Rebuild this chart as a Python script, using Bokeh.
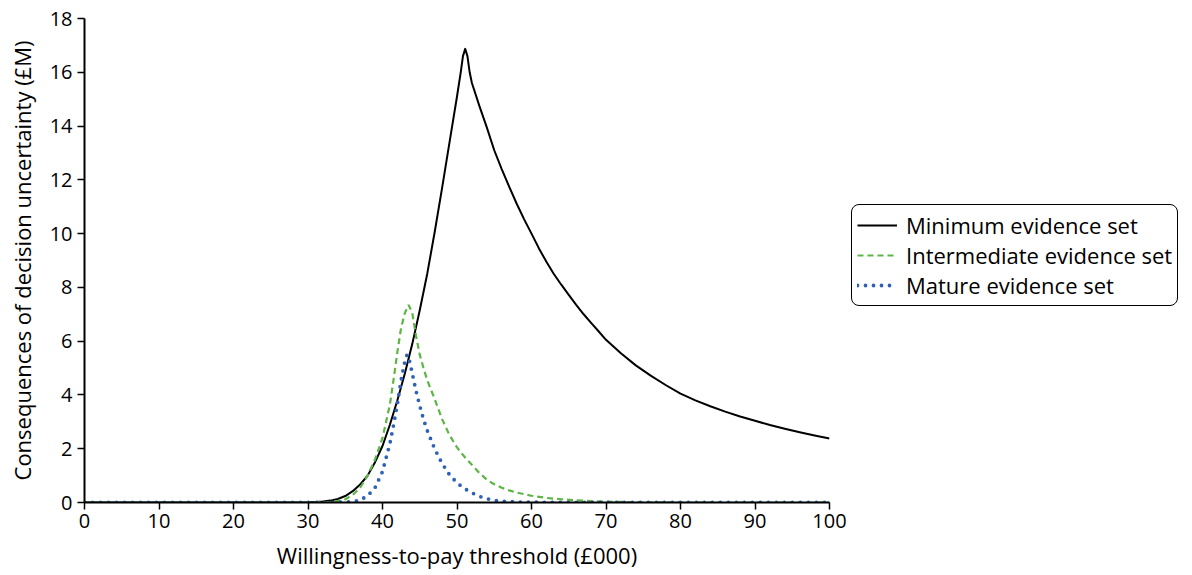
from bokeh.plotting import figure
from bokeh.models import Legend, LegendItem, Range1d, FixedTicker
from bokeh.embed import file_html
from bokeh.resources import INLINE

# Willingness-to-pay threshold (£000) and consequences of decision uncertainty (£M)
x_minimum = [0, 10, 20, 30, 31, 32, 33, 34, 35, 36, 37, 38, 39, 40, 41, 42, 43, 44, 45, 46, 47, 48,
             49, 50, 50.5, 50.8, 51.1, 51.4, 51.7, 52, 53, 54, 55, 56, 57, 58, 59, 60, 61, 62, 63,
             64, 65, 66, 67, 68, 69, 70, 72, 74, 76, 78, 80, 82, 84, 86, 88, 90, 92, 94, 96, 98, 100]
y_minimum = [0, 0, 0, 0.01, 0.02, 0.04, 0.07, 0.13, 0.24, 0.42, 0.67, 1.0, 1.5, 2.1, 2.9, 3.8, 4.8,
             5.9, 7.15, 8.5, 10.05, 11.7, 13.4, 15.1, 16.0, 16.6, 16.87, 16.6, 16.0, 15.6, 14.75,
             13.95, 13.1, 12.4, 11.75, 11.12, 10.54, 10.0, 9.45, 8.95, 8.5, 8.1, 7.72, 7.35, 7.0,
             6.68, 6.37, 6.05, 5.55, 5.1, 4.72, 4.37, 4.05, 3.8, 3.58, 3.38, 3.2, 3.04, 2.88, 2.74,
             2.61, 2.49, 2.38]

x_intermediate = [0, 10, 20, 30, 33, 34, 35, 36, 37, 38, 39, 40, 41, 41.5, 42, 42.5, 43, 43.5, 44,
                  44.5, 45, 45.5, 46, 47, 48, 49, 50, 51, 52, 53, 54, 55, 56, 57, 58, 60, 62, 64,
                  66, 68, 70, 75, 80, 90, 100]
y_intermediate = [0, 0, 0, 0, 0.02, 0.06, 0.12, 0.28, 0.55, 1.0, 1.6, 2.4, 3.65, 4.6, 5.6, 6.5,
                  7.05, 7.35, 7.05, 6.2, 5.5, 5.0, 4.55, 3.85, 3.1, 2.5, 2.05, 1.7, 1.4, 1.1, 0.85,
                  0.68, 0.55, 0.45, 0.37, 0.25, 0.17, 0.12, 0.08, 0.05, 0.03, 0.01, 0, 0, 0]

x_mature = [0, 10, 20, 30, 35, 36, 37, 38, 39, 40, 41, 41.5, 42, 42.5, 43, 43.3, 43.6, 44, 44.5,
            45, 45.5, 46, 47, 48, 49, 50, 51, 52, 53, 54, 55, 56, 58, 60, 70, 80, 90, 100]
y_mature = [0, 0, 0, 0, 0.01, 0.03, 0.09, 0.25, 0.55, 1.15, 2.2, 2.9, 3.67, 4.55, 5.25, 5.5, 5.3,
            4.8, 4.15, 3.6, 3.1, 2.68, 2.0, 1.45, 1.03, 0.73, 0.52, 0.36, 0.23, 0.14, 0.08, 0.05,
            0.02, 0.01, 0, 0, 0, 0]

x_ticks = [0, 10, 20, 30, 40, 50, 60, 70, 80, 90, 100]
y_ticks = [0, 2, 4, 6, 8, 10, 12, 14, 16, 18]

FONT = "Open Sans"

p = figure(frame_width=745, frame_height=484, output_backend="svg", toolbar_location=None,
           x_range=Range1d(0, 100), y_range=Range1d(0, 18),
           min_border_left=84, min_border_right=363, min_border_top=18, min_border_bottom=73)
p.outline_line_color = None
p.xgrid.visible = False
p.ygrid.visible = False
p.background_fill_color = "white"
p.border_fill_color = "white"

black = p.line(x_minimum, y_minimum, line_color="black", line_width=2, line_join="round")
green = p.line(x_intermediate, y_intermediate, line_color="#5cb544", line_width=2.2,
               line_dash="6 4")
blue = p.line(x_mature, y_mature, line_color="#2e62b6", line_width=3.8,
              line_dash="0 8", line_cap="round")

for ax, ticks in ((p.xaxis, x_ticks), (p.yaxis, y_ticks)):
    ax.ticker = FixedTicker(ticks=ticks)
    ax.minor_tick_line_color = None
    ax.major_tick_in = 0
    ax.major_tick_out = 7
    ax.major_tick_line_width = 1.5
    ax.axis_line_width = 2
    ax.axis_line_color = "black"
    ax.major_tick_line_color = "black"
    ax.major_label_text_font = FONT
    ax.major_label_text_font_size = "20px"
    ax.major_label_text_color = "black"
    ax.axis_label_text_font = FONT
    ax.axis_label_text_font_size = "22px"
    ax.axis_label_text_font_style = "normal"
    ax.axis_label_text_color = "black"

p.xaxis.axis_label = "Willingness-to-pay threshold (£000)"
p.yaxis.axis_label = "Consequences of decision uncertainty (£M)"
p.xaxis.major_label_standoff = 4
p.xaxis.axis_label_standoff = 9
p.yaxis.major_label_standoff = 5
p.yaxis.axis_label_standoff = 10

legend = Legend(items=[
    LegendItem(label="Minimum evidence set", renderers=[black]),
    LegendItem(label="Intermediate evidence set", renderers=[green]),
    LegendItem(label="Mature evidence set", renderers=[blue]),
], location=(22, 196))
legend.label_text_font = FONT
legend.label_text_font_size = "22px"
legend.label_text_line_height = 0.85
legend.label_text_color = "black"
legend.glyph_width = 40
legend.glyph_height = 20
legend.label_height = 20
legend.spacing = 0
legend.padding = 5
legend.margin = 0
legend.label_standoff = 9
legend.border_line_color = "black"
legend.border_line_alpha = 1
legend.border_line_width = 1.5
legend.border_radius = 8
legend.background_fill_alpha = 1
p.add_layout(legend, "right")

open("out.html", "w").write(file_html(p, INLINE))
